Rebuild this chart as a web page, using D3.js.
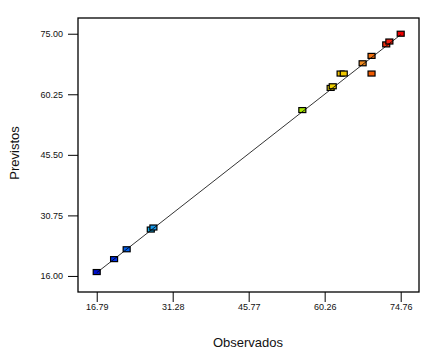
<!DOCTYPE html>
<html>
<head>
    <meta charset="utf-8">
    <title>Previstos vs Observados</title>
    <style>
        body { margin: 0; background: #fff; }
        text { font-family: "Liberation Sans", Arial, sans-serif; fill: #111; }
        .tick text { font-size: 9px; }
        .axis-title { font-size: 13px; }
    </style>
    <script src="https://d3js.org/d3.v7.min.js"></script>
</head>
<body>
<script>
  var observados = [16.79, 20.1, 22.5, 27.1, 27.6, 56.0, 61.4, 61.8, 63.3, 63.9, 67.5, 69.2, 69.2, 72.0, 72.6, 74.76];
  var previstos  = [16.95, 20.1, 22.5, 27.3, 27.8, 56.4, 61.8, 62.2, 65.3, 65.3, 67.8, 69.6, 65.3, 72.4, 73.1, 75.0];
  var colores    = ["#0010d0", "#0030e8", "#0060f0", "#10a8e0", "#1898e8", "#a8e800", "#f0d800", "#f0d000",
                    "#f0c000", "#f0c800", "#f08a20", "#f07010", "#f05a00", "#f03010", "#f02010", "#f00000"];
  var xTicks = [16.79, 31.28, 45.77, 60.26, 74.76];
  var yTicks = [16.00, 30.75, 45.50, 60.25, 75.00];
  var lineaX = [16.79, 74.76]; // reference line y = x

  var w = 439, h = 352;
  var mLeft = 78, mRight = 419, mTop = 18, mBottom = 292;

  var svg = d3.select("body").append("svg")
              .attr("width", w)
              .attr("height", h);

  var x = d3.scaleLinear().domain([13.22, 78.25]).range([mLeft, mRight]);
  var y = d3.scaleLinear().domain([12.09, 78.83]).range([mBottom, mTop]);

  var xAxis = d3.axisBottom(x).tickValues(xTicks).tickFormat(d3.format(".2f")).tickSize(10).tickPadding(2);
  var yAxis = d3.axisLeft(y).tickValues(yTicks).tickFormat(d3.format(".2f")).tickSize(10).tickPadding(5);

  svg.append("g").attr("transform", "translate(0," + mBottom + ")").call(xAxis)
     .call(function (g) { g.select(".domain").remove(); });
  svg.append("g").attr("transform", "translate(" + mLeft + ",0)").call(yAxis)
     .call(function (g) { g.select(".domain").remove(); });

  // frame
  svg.append("rect")
     .attr("x", mLeft).attr("y", mTop)
     .attr("width", mRight - mLeft).attr("height", mBottom - mTop)
     .attr("fill", "none").attr("stroke", "#000").attr("stroke-width", 1.3);

  // points
  svg.selectAll("rect.pt")
     .data(observados)
     .enter()
     .append("rect")
     .attr("class", "pt")
     .attr("x", function (d) { return x(d) - 3.5; })
     .attr("y", function (d, i) { return y(previstos[i]) - 2.5; })
     .attr("width", 7)
     .attr("height", 5)
     .attr("fill", function (d, i) { return colores[i]; })
     .attr("stroke", "#000")
     .attr("stroke-width", 1.2);

  // line on top
  svg.append("line")
     .attr("x1", x(lineaX[0])).attr("y1", y(lineaX[0]))
     .attr("x2", x(lineaX[1])).attr("y2", y(lineaX[1]))
     .attr("stroke", "#000").attr("stroke-width", 0.8);

  svg.append("text")
     .attr("class", "axis-title")
     .attr("x", 248).attr("y", 347)
     .attr("text-anchor", "middle")
     .text("Observados");

  svg.append("text")
     .attr("class", "axis-title")
     .attr("transform", "translate(19,153) rotate(-90)")
     .attr("text-anchor", "middle")
     .text("Previstos");
</script>
</body>
</html>
